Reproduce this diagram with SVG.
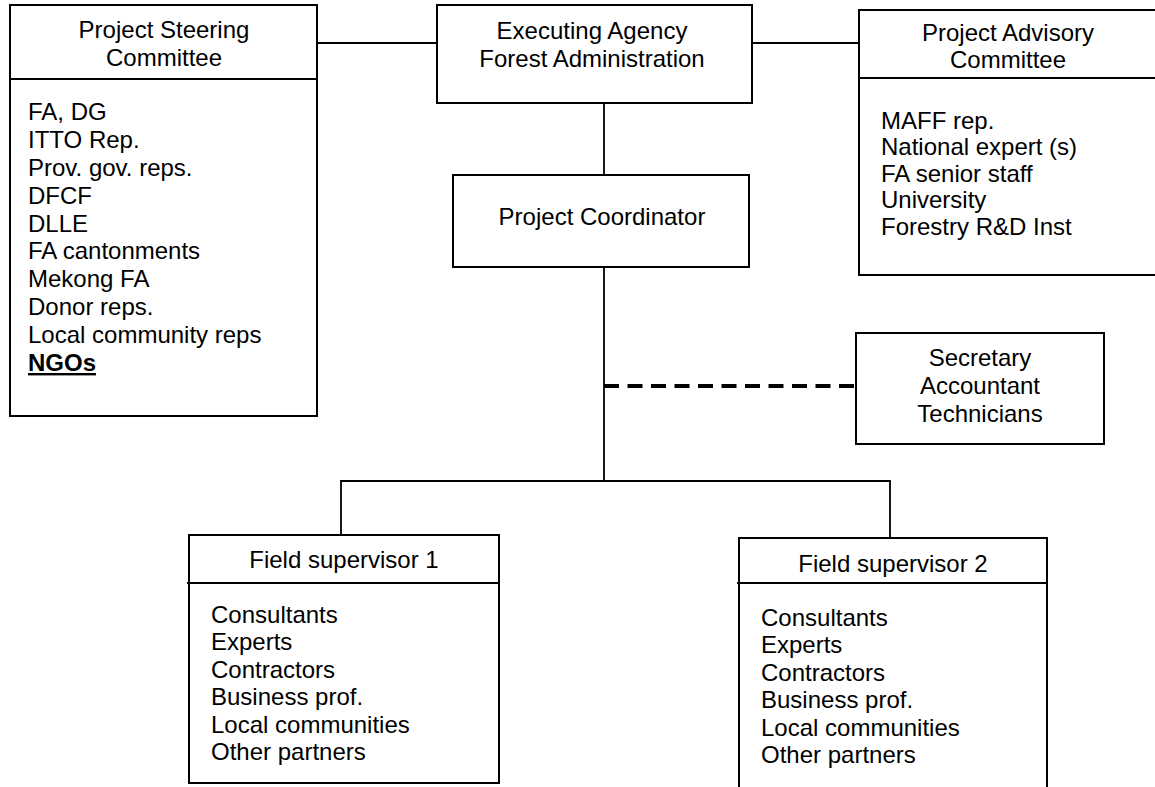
<svg xmlns="http://www.w3.org/2000/svg" width="1155" height="787" viewBox="0 0 1155 787">
  <style>
    .box { fill: #ffffff; stroke: #000000; stroke-width: 2; }
    .rule { stroke: #000000; stroke-width: 2; fill: none; }
    .wire { stroke: #000000; stroke-width: 1.8; fill: none; }
    .dash { stroke: #000000; stroke-width: 4; fill: none; stroke-dasharray: 15 8.5; }
    text { font-family: "Liberation Sans", Arial, sans-serif; font-size: 24px; fill: #000000; }
    .c { text-anchor: middle; }
    .b { font-weight: bold; text-decoration: underline; }
  </style>
  <rect width="1155" height="787" fill="#ffffff"/>

  <!-- connectors -->
  <g id="connectors">
    <line class="wire" x1="317" y1="43" x2="437" y2="43"/>
    <line class="wire" x1="752" y1="43" x2="859" y2="43"/>
    <line class="wire" x1="604" y1="103" x2="604" y2="175"/>
    <line class="wire" x1="604" y1="267" x2="604" y2="481"/>
    <line class="dash" x1="604" y1="386" x2="856" y2="386"/>
    <polyline class="wire" points="341,535 341,481 890,481 890,538"/>
  </g>

  <!-- steering committee -->
  <g id="steering-committee">
    <rect class="box" x="10" y="5" width="307" height="411"/>
    <line class="rule" x1="10" y1="79" x2="317" y2="79"/>
    <text class="c" x="164" y="38">Project Steering</text>
    <text class="c" x="164" y="66">Committee</text>
    <text x="28" y="120">FA, DG</text>
    <text x="28" y="148">ITTO Rep.</text>
    <text x="28" y="176">Prov. gov. reps.</text>
    <text x="28" y="204">DFCF</text>
    <text x="28" y="232">DLLE</text>
    <text x="28" y="259">FA cantonments</text>
    <text x="28" y="287">Mekong FA</text>
    <text x="28" y="315">Donor reps.</text>
    <text x="28" y="343">Local community reps</text>
    <text class="b" x="28" y="371">NGOs</text>
  </g>

  <!-- executing agency -->
  <g id="executing-agency">
    <rect class="box" x="437" y="5" width="315" height="98"/>
    <text class="c" x="592" y="39">Executing Agency</text>
    <text class="c" x="592" y="67">Forest Administration</text>
  </g>

  <!-- advisory committee -->
  <g id="advisory-committee">
    <rect class="box" x="859" y="10" width="298" height="265"/>
    <line class="rule" x1="859" y1="78" x2="1157" y2="78"/>
    <text class="c" x="1008" y="41">Project Advisory</text>
    <text class="c" x="1008" y="68">Committee</text>
    <text x="881" y="129">MAFF rep.</text>
    <text x="881" y="155">National expert (s)</text>
    <text x="881" y="182">FA senior staff</text>
    <text x="881" y="208">University</text>
    <text x="881" y="235">Forestry R&amp;D Inst</text>
  </g>

  <!-- project coordinator -->
  <g id="project-coordinator">
    <rect class="box" x="453" y="175" width="296" height="92"/>
    <text class="c" x="602" y="225">Project Coordinator</text>
  </g>

  <!-- support staff -->
  <g id="support-staff">
    <rect class="box" x="856" y="333" width="248" height="111"/>
    <text class="c" x="980" y="366">Secretary</text>
    <text class="c" x="980" y="394">Accountant</text>
    <text class="c" x="980" y="422">Technicians</text>
  </g>

  <!-- field supervisor 1 -->
  <g id="field-supervisor-1">
    <rect class="box" x="189" y="535" width="310" height="248"/>
    <line class="rule" x1="187" y1="583" x2="499" y2="583"/>
    <text class="c" x="344" y="568">Field supervisor 1</text>
    <text x="211" y="623">Consultants</text>
    <text x="211" y="650">Experts</text>
    <text x="211" y="678">Contractors</text>
    <text x="211" y="705">Business prof.</text>
    <text x="211" y="733">Local communities</text>
    <text x="211" y="760">Other partners</text>
  </g>

  <!-- field supervisor 2 (runs past the lower edge) -->
  <g id="field-supervisor-2">
    <path class="box" d="M739,790 V538 H1047 V790"/>
    <line class="rule" x1="737" y1="583" x2="1047" y2="583"/>
    <text class="c" x="893" y="572">Field supervisor 2</text>
    <text x="761" y="626">Consultants</text>
    <text x="761" y="653">Experts</text>
    <text x="761" y="681">Contractors</text>
    <text x="761" y="708">Business prof.</text>
    <text x="761" y="736">Local communities</text>
    <text x="761" y="763">Other partners</text>
  </g>
</svg>
